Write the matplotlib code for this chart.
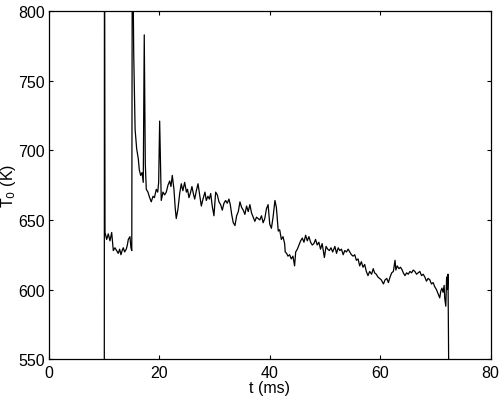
import matplotlib
matplotlib.use("Agg")
import matplotlib.pyplot as plt

plt.rcParams['font.family'] = ['Liberation Sans', 'DejaVu Sans']

# time (ms) and stagnation temperature (K)
t_ms = [
    10.0, 10.05, 10.15, 10.45, 10.74, 11.05, 11.36, 11.65, 11.95, 12.26,
    12.55, 12.8, 13.04, 13.25, 13.46, 13.7, 14.0, 14.2, 14.37, 14.67,
    14.85, 15.0, 15.1, 15.35, 15.6, 15.89, 16.18, 16.36, 16.61, 16.85,
    17.08, 17.26, 17.45, 17.63, 17.93, 18.24, 18.53, 18.84, 19.1, 19.44,
    19.7, 19.87, 20.05, 20.34, 20.65, 20.95, 21.25, 21.56, 21.87, 22.1,
    22.34, 22.64, 22.88, 23.06, 23.37, 23.68, 23.97, 24.25, 24.58, 24.9,
    25.1, 25.36, 25.6, 25.9, 26.15, 26.4, 26.7, 27.0, 27.3, 27.6,
    27.9, 28.26, 28.5, 28.8, 29.05, 29.3, 29.58, 29.89, 30.2, 30.5,
    30.8, 31.1, 31.4, 31.7, 32.0, 32.3, 32.6, 32.85, 33.1, 33.39,
    33.7, 34.0, 34.3, 34.6, 34.9, 35.2, 35.5, 35.8, 36.1, 36.4,
    36.7, 37.0, 37.3, 37.6, 37.9, 38.2, 38.5, 38.8, 39.1, 39.4,
    39.7, 40.0, 40.3, 40.6, 40.94, 41.2, 41.54, 41.8, 42.1, 42.4,
    42.7, 42.8, 43.05, 43.3, 43.6, 43.9, 44.2, 44.5, 44.7, 45.0,
    45.3, 45.6, 45.9, 46.2, 46.5, 46.8, 47.1, 47.4, 47.7, 48.0,
    48.3, 48.6, 48.9, 49.2, 49.5, 49.9, 50.2, 50.5, 50.8, 51.1,
    51.4, 51.8, 52.1, 52.4, 52.7, 53.0, 53.3, 53.6, 53.9, 54.2,
    54.5, 54.8, 55.1, 55.4, 55.7, 56.0, 56.3, 56.6, 56.9, 57.2,
    57.5, 57.8, 58.1, 58.45, 58.75, 59.0, 59.3, 59.6, 59.9, 60.2,
    60.6, 60.9, 61.2, 61.5, 61.8, 62.1, 62.4, 62.7, 62.85, 63.1,
    63.4, 63.7, 64.0, 64.2, 64.5, 64.8, 65.1, 65.4, 65.7, 66.0,
    66.3, 66.6, 66.9, 67.2, 67.5, 67.8, 68.1, 68.4, 68.7, 69.0,
    69.3, 69.6, 69.9, 70.2, 70.5, 70.8, 71.0, 71.2, 71.4, 71.6,
    71.7, 71.9, 72.05, 72.2, 72.3, 72.6,
]
T0_K = [
    300, 900, 641, 636, 640, 635, 641, 628, 630, 628,
    626, 629, 625, 628, 630, 627, 629, 632, 636, 638,
    630, 628, 880, 770, 715, 701, 694, 686, 682, 684,
    677, 783, 690, 672, 670, 666, 663, 667, 666, 672,
    670, 677, 721, 664, 670, 668, 670, 675, 678, 674,
    682, 672, 658, 651, 658, 669, 676, 671, 677, 670,
    672, 666, 669, 674, 669, 665, 671, 676, 668, 660,
    665, 670, 664, 667, 665, 669, 660, 653, 670, 668,
    663, 661, 657, 662, 664, 662, 665, 661, 654, 648,
    646, 653, 656, 663, 659, 657, 654, 660, 656, 661,
    655, 652, 649, 652, 651, 650, 653, 648, 651, 658,
    661, 647, 644, 652, 664, 659, 642, 643, 636, 638,
    633, 627, 626, 624, 625, 622, 624, 617, 627, 629,
    632, 635, 637, 634, 639, 635, 638, 634, 632, 633,
    636, 632, 634, 629, 633, 623, 631, 629, 628, 630,
    627, 631, 626, 630, 628, 629, 625, 628, 627, 629,
    627, 625, 624, 625, 621, 622, 617, 620, 616, 618,
    613, 610, 613, 611, 615, 612, 611, 609, 608, 607,
    604, 607, 608, 605, 609, 612, 613, 621, 614, 617,
    615, 616, 614, 612, 610, 612, 611, 613, 612, 614,
    613, 611, 612, 613, 610, 611, 609, 606, 608, 607,
    604, 605, 602, 600, 597, 594, 599, 601, 598, 603,
    594, 588, 609, 600, 611, 450,
]

fig = plt.figure(figsize=(5, 4.06), dpi=100)
ax = fig.add_axes([0.098, 0.113, 0.883, 0.857])

ax.plot(t_ms, T0_K, color='black', linewidth=0.9)

ax.set_xlim(0, 80)
ax.set_ylim(550, 800)
ax.set_xticks([0, 20, 40, 60, 80])
ax.set_yticks([550, 600, 650, 700, 750, 800])
ax.tick_params(direction='in', length=3, width=0.8, top=True, right=True,
               labelsize=11.5, pad=3)
ax.tick_params(axis='x', pad=4.5)
for s in ax.spines.values():
    s.set_linewidth(0.9)

ax.set_xlabel('t (ms)', fontsize=11.5, labelpad=0)
ax.set_ylabel('T$_0$ (K)', fontsize=11.5, labelpad=0)

fig.savefig('out.png', dpi=100)
